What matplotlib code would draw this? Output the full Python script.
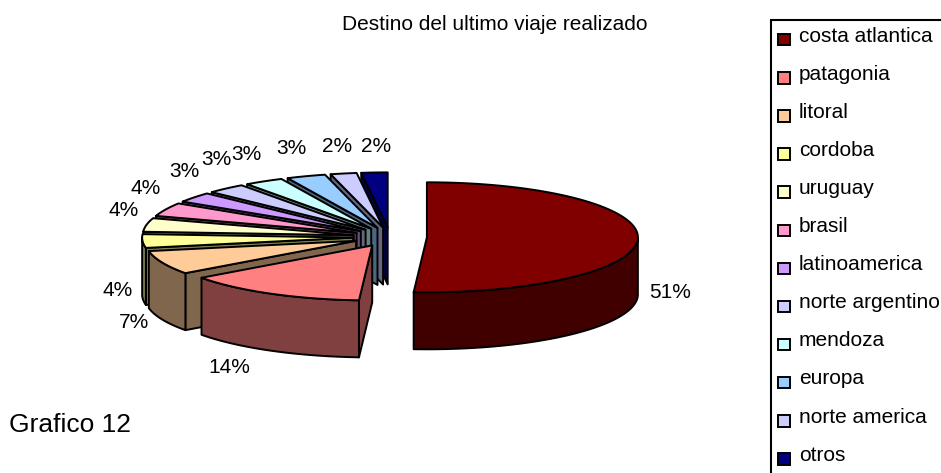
import numpy as np
import matplotlib
matplotlib.use("Agg")
import matplotlib.pyplot as plt
from matplotlib.patches import Polygon, Rectangle

plt.rcParams['font.family'] = ['Liberation Sans', 'DejaVu Sans']

categories = ["costa atlantica", "patagonia", "litoral", "cordoba", "uruguay", "brasil",
              "latinoamerica", "norte argentino", "mendoza", "europa", "norte america", "otros"]
values = [51, 14, 7, 4, 4, 4, 3, 3, 3, 3, 2, 2]
colors = ["#800000", "#FF8080", "#FFCC99", "#FFFF99", "#FFFFCC", "#FF99CC",
          "#CC99FF", "#CCCCFF", "#CCFFFF", "#99CCFF", "#CCCCFF", "#000080"]
label_pos = [(670, 292), (229, 367), (134, 322), (118, 290), (124, 210), (146, 188),
             (184, 171), (216, 159), (246, 154), (291, 148), (337, 146), (376, 146)]

# pie geometry, in pixels
cx, cy = 390, 237
a, b = 211, 55
depth = 57
explode = 0.175
lw = 1.4


def darker(c):
    r = matplotlib.colors.to_rgb(c)
    return tuple(v * 0.5 for v in r)


def pt(ang, ox, oy):
    return ox + a * np.sin(ang), oy - b * np.cos(ang)


fig = plt.figure(figsize=(9.41, 4.73), dpi=100)
ax = fig.add_axes([0, 0, 1, 1])
ax.set_xlim(0, 941)
ax.set_ylim(473, 0)
ax.axis('off')

total = sum(values)
edges = np.cumsum([0] + values) / total * 2 * np.pi

# back slices first
mids = (edges[:-1] + edges[1:]) / 2
order = np.argsort(-np.cos(mids))

for i in order:
    t1, t2 = edges[i], edges[i + 1]
    mid = mids[i]
    ox = cx + explode * a * np.sin(mid)
    oy = cy - explode * b * np.cos(mid)
    side = darker(colors[i])
    arc = np.linspace(t1, t2, 120)
    xs, ys = pt(arc, ox, oy)
    mx, my = pt(mid, ox, oy)

    # radial walls, only those facing the viewer
    for t in (t1, t2):
        px, py = pt(t, ox, oy)
        nx, ny = -(py - oy), px - ox
        if nx * (mx - ox) + ny * (my - oy) > 0:
            nx, ny = -nx, -ny
        if ny > 0:
            ax.add_patch(Polygon([(ox, oy), (px, py), (px, py + depth), (ox, oy + depth)],
                                 closed=True, fc=side, ec='black', lw=lw, joinstyle='round'))

    # outer wall, front half of the rim
    keep = np.cos(arc) <= 0
    if keep.any():
        wx, wy = xs[keep], ys[keep]
        wall = np.r_[np.c_[wx, wy], np.c_[wx[::-1], wy[::-1] + depth]]
        ax.add_patch(Polygon(wall, closed=True, fc=side, ec='black', lw=lw, joinstyle='round'))

    top = np.r_[[(ox, oy)], np.c_[xs, ys]]
    ax.add_patch(Polygon(top, closed=True, fc=colors[i], ec='black', lw=lw, joinstyle='round'))

for v, (x, y) in zip(values, label_pos):
    ax.text(x, y, "%d%%" % v, fontsize=15, ha='center', va='center', color='black')

ax.text(495, 25, "Destino del ultimo viaje realizado", fontsize=15, ha='center', va='center')
ax.text(9, 425, "Grafico 12", fontsize=19, ha='left', va='center')

# legend box, runs off the picture
ax.add_patch(Rectangle((771, 20), 200, 470, fc='white', ec='black', lw=1.5))
for j, name in enumerate(categories):
    y = 39.5 + j * 38.1
    ax.add_patch(Rectangle((778, y - 5.5), 12, 11.5, fc=colors[j], ec='black', lw=1.4))
    ax.text(799, y - 3.5, name, fontsize=15, ha='left', va='center', clip_on=True)

fig.savefig("out.png", dpi=100)
